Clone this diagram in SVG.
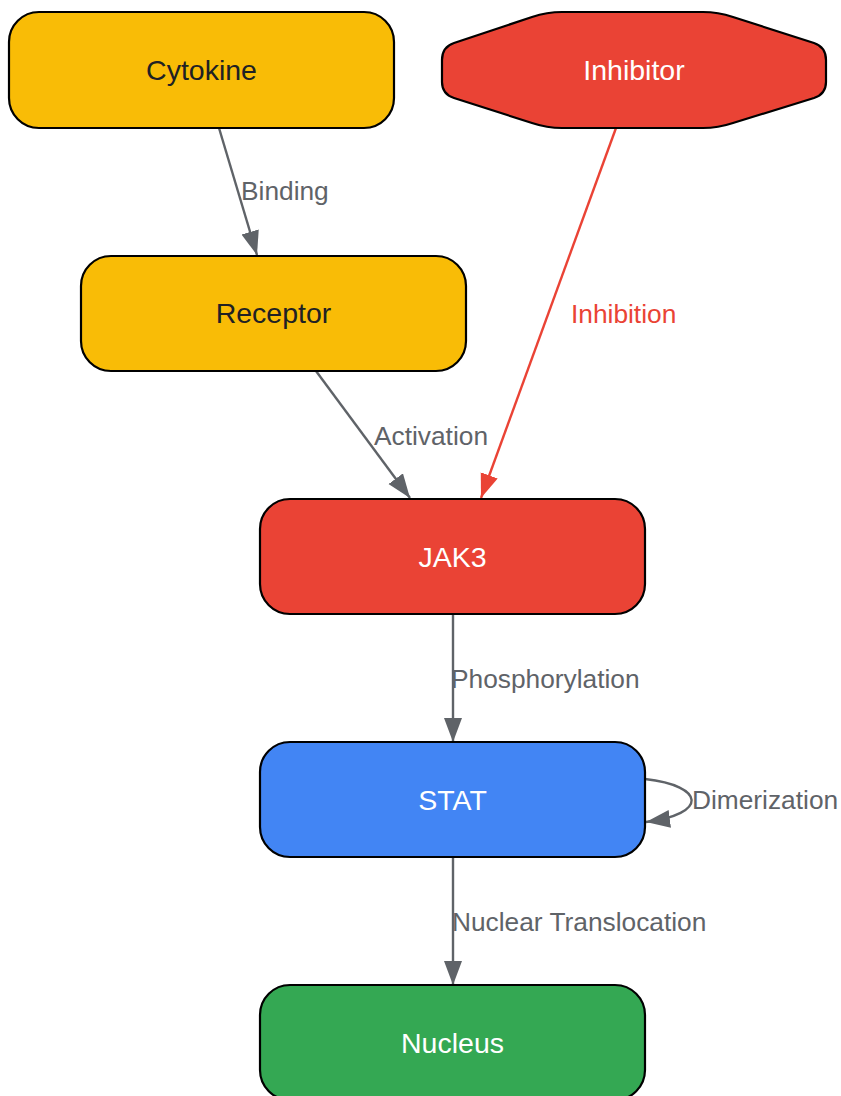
<svg xmlns="http://www.w3.org/2000/svg" width="841" height="1096" viewBox="0 0 841 1096">
<style>
.node{stroke:#000;stroke-width:2.2}
.yel{fill:#F9BC06}
.red{fill:#EA4335}
.blue{fill:#4285F4}
.green{fill:#34A853}
.nt{font-family:"Liberation Sans",Arial,sans-serif;font-size:28.5px;text-anchor:middle;dominant-baseline:central}
.dark{fill:#202124}
.white{fill:#ffffff}
.edge{fill:none;stroke:#5F6368;stroke-width:2.4}
.edge-red{fill:none;stroke:#EA4335;stroke-width:2.4}
.el{font-family:"Liberation Sans",Arial,sans-serif;font-size:26.3px;fill:#5F6368;dominant-baseline:central}
.el-red{fill:#EA4335}
</style>
<defs>
<marker id="ag" markerUnits="userSpaceOnUse" markerWidth="26" markerHeight="20" refX="24" refY="9" orient="auto">
<path d="M0,0 L24,9 L0,18 Z" fill="#5F6368"/>
</marker>
<marker id="ar" markerUnits="userSpaceOnUse" markerWidth="26" markerHeight="20" refX="24" refY="9" orient="auto">
<path d="M0,0 L24,9 L0,18 Z" fill="#EA4335"/>
</marker>
</defs>
<g id="edges">
<path class="edge" d="M219,128 L257,255" marker-end="url(#ag)"/>
<path class="edge" d="M316,371 L410,498" marker-end="url(#ag)"/>
<path class="edge-red" d="M616,128 L481,498" marker-end="url(#ar)"/>
<path class="edge" d="M453,614 L453,742" marker-end="url(#ag)"/>
<path class="edge" d="M645,779 C706,786 708,814 646,822" marker-end="url(#ag)"/>
<path class="edge" d="M453,857 L453,985" marker-end="url(#ag)"/>
<text class="el" x="241" y="191">Binding</text>
<text class="el el-red" x="571" y="314">Inhibition</text>
<text class="el" x="374" y="436">Activation</text>
<text class="el" x="451" y="679">Phosphorylation</text>
<text class="el" x="692" y="800">Dimerization</text>
<text class="el" x="452" y="922">Nuclear Translocation</text>
</g>
<g id="cytokine">
<rect class="node yel" x="9" y="12" width="385" height="116" rx="30"/>
<text class="nt dark" x="201.5" y="70">Cytokine</text>
</g>
<g id="inhibitor">
<path class="node red" d="M562,12 L703,12 Q718,12 733,17 L814,43 Q826,47 826,60 L826,82 Q826,94 814,98 L733,123 Q718,128 703,128 L562,128 Q547,128 532,123 L454,98 Q442,94 442,82 L442,60 Q442,47 454,43 L532,17 Q547,12 562,12 Z"/>
<text class="nt white" x="634" y="70">Inhibitor</text>
</g>
<g id="receptor">
<rect class="node yel" x="81" y="256" width="385" height="115" rx="30"/>
<text class="nt dark" x="273.5" y="313">Receptor</text>
</g>
<g id="jak3">
<rect class="node red" x="260" y="499" width="385" height="115" rx="30"/>
<text class="nt white" x="452.5" y="557">JAK3</text>
</g>
<g id="stat">
<rect class="node blue" x="260" y="742" width="385" height="115" rx="30"/>
<text class="nt white" x="452.5" y="800">STAT</text>
</g>
<g id="nucleus">
<rect class="node green" x="260" y="985" width="385" height="115" rx="30"/>
<text class="nt white" x="452.5" y="1043">Nucleus</text>
</g>
</svg>
